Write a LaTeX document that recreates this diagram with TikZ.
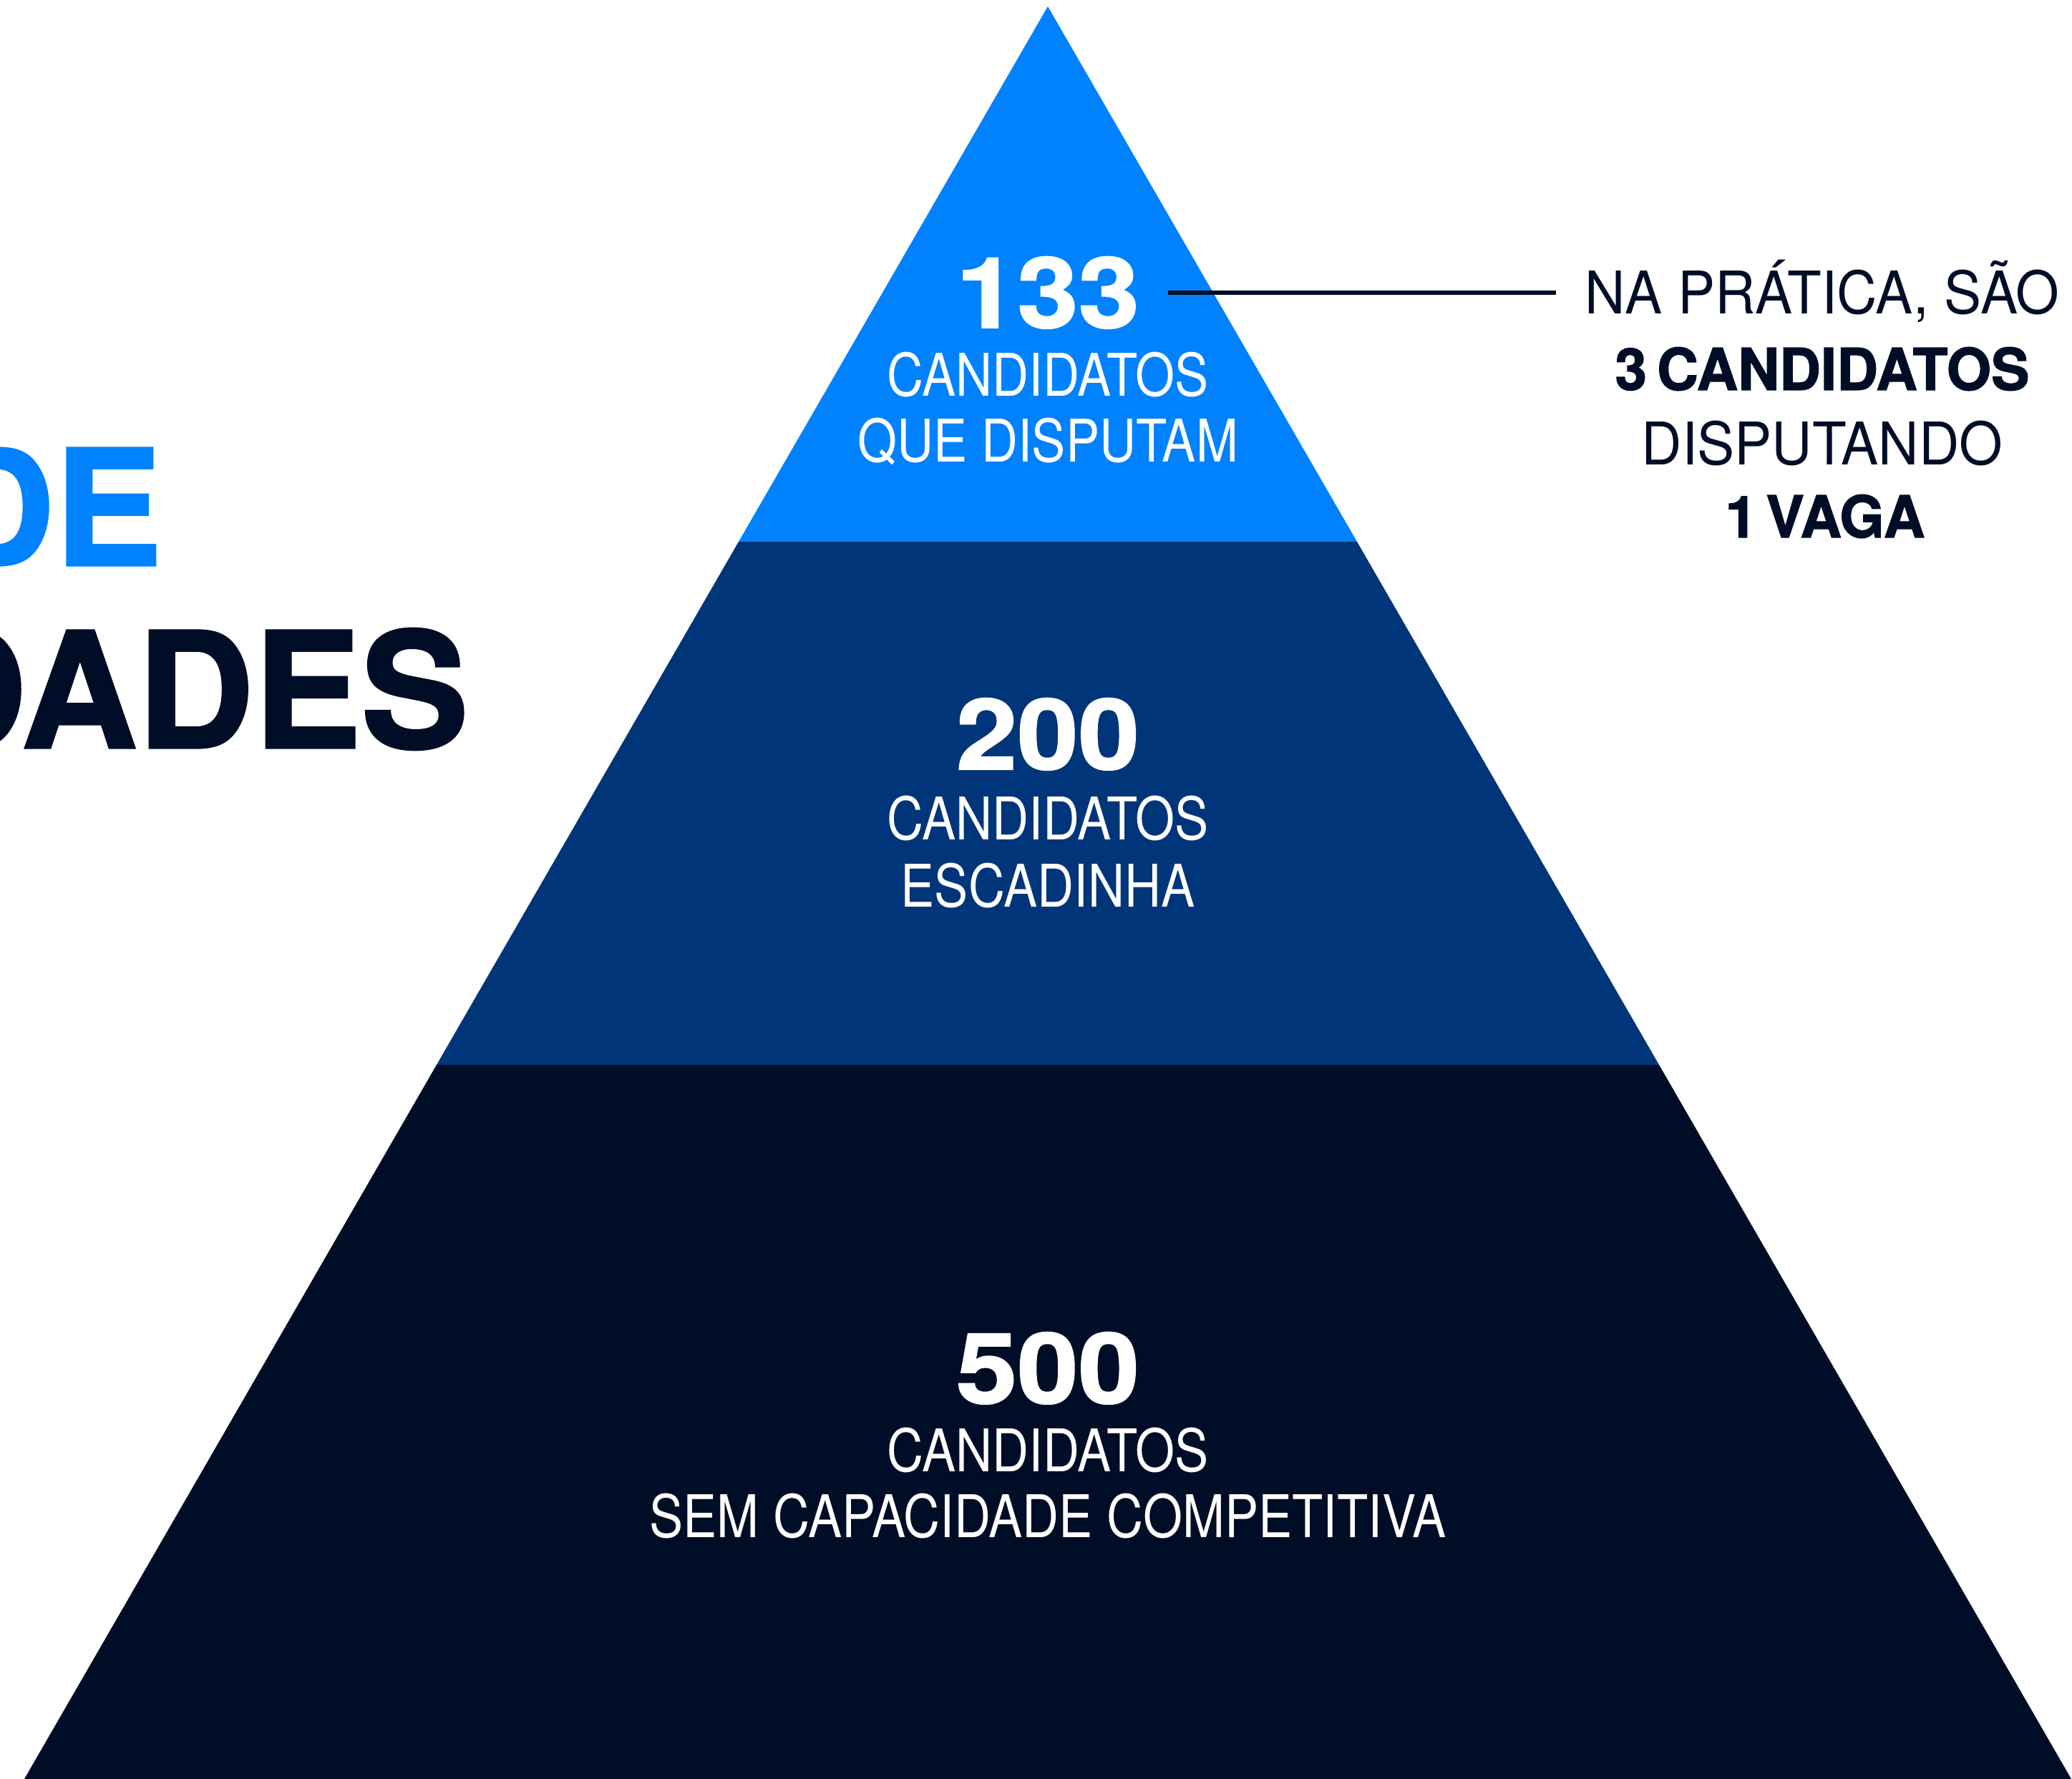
\documentclass[tikz,border=0pt]{standalone}
\usepackage{fontspec}
\setmainfont{TeX Gyre Heros}
\newfontfamily\tierfont[FakeStretch=0.86]{TeX Gyre Heros}
\newfontfamily\notefont[FakeStretch=0.95]{TeX Gyre Heros}
\newfontfamily\countfont[FakeStretch=1.12,FakeBold=1.5]{TeX Gyre Heros}
\newfontfamily\noteboldfont[FakeStretch=0.99,FakeBold=1.5]{TeX Gyre Heros}
\newfontfamily\titlefont[FakeBold=1.5]{TeX Gyre Heros}
\usetikzlibrary{calc,positioning}
\definecolor{TopBlue}{HTML}{0082FF}
\definecolor{MidNavy}{HTML}{00357A}
\definecolor{BaseInk}{HTML}{000D26}

\begin{document}
\begin{tikzpicture}[inner sep=0pt,
    font=\tierfont\fontsize{23.4}{28}\selectfont,
    count/.style={anchor=base,text=white,
      font=\countfont\bfseries\fontsize{39}{40}\selectfont},
    tierlabel/.style={anchor=base,text=white},
    note/.style={anchor=base,text=BaseInk,
      font=\notefont\fontsize{23.4}{28}\selectfont},
    notebold/.style={note,font=\noteboldfont\bfseries\fontsize{23}{28}\selectfont},
    title/.style={anchor=base east,font=\titlefont\bfseries\fontsize{64}{70}\selectfont}]
  \useasboundingbox (0,0) rectangle (28.95,24.86);
  \def\mid{14.64}

  % Title, cut by the left edge.
  \node[title,text=TopBlue] (titletop) at (2.27,16.96) {DE};
  \node[title,text=BaseInk] (titlebot) at (6.55,14.41) {DADES};

  % Pyramid tiers.
  \fill[BaseInk] (0.34,0) -- (6.10,9.98) -- (23.18,9.98) -- (28.94,0) -- cycle;
  \fill[MidNavy] (6.10,9.98) -- (10.32,17.29) -- (18.96,17.29) -- (23.18,9.98) -- cycle;
  \fill[TopBlue] (10.32,17.29) -- (\mid,24.77) -- (18.96,17.29) -- cycle;

  % Top tier.
  \node[count] (c133) at (\mid,20.28) {133};
  \node[tierlabel] (topa) at (\mid,19.32) {CANDIDATOS};
  \node[tierlabel] (topb) at (\mid,18.40) {QUE DISPUTAM};

  % Middle tier.
  \node[count] (c200) at (\mid,14.11) {200};
  \node[tierlabel] (mida) at (\mid,13.12) {CANDIDATOS};
  \node[tierlabel] (midb) at (\mid,12.18) {ESCADINHA};

  % Base tier.
  \node[count] (c500) at (\mid,5.25) {500};
  \node[tierlabel] (basea) at (\mid,4.29) {CANDIDATOS};
  \node[tierlabel] (baseb) at (\mid,3.37) {SEM CAPACIDADE COMPETITIVA};

  % Side note.
  \node[note] (notea) at (25.46,20.47) {NA PRÁTICA, SÃO};
  \node[notebold] (noteb) at (25.46,19.41) {3\kern-0.1em{} CANDIDATOS};
  \node[note] (notec) at (25.46,18.36) {DISPUTANDO};
  \node[notebold] (noted) at (25.50,17.35) {1\kern-0.12em{} VAGA};

  \draw[line width=1.5pt,draw=BaseInk]
    ($(c133.east)+(3.9mm,0)$) -- ($(c133.east -| notea.west)+(-4mm,0)$);
\end{tikzpicture}
\end{document}
